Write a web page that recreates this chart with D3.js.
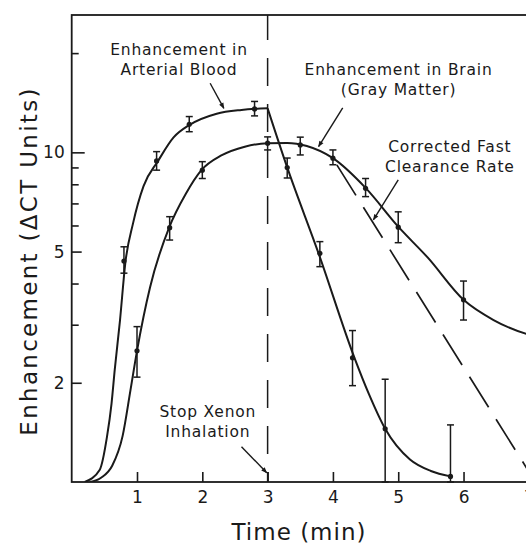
<!DOCTYPE html>
<html>
<head>
<meta charset="utf-8">
<script src="https://cdn.jsdelivr.net/npm/d3@7"></script>
<style>
  body { margin: 0; background: #fff; }
  svg { display: block; font-family: "DejaVu Sans", sans-serif; }
</style>
</head>
<body>
<script>
const arterialTimes = [0.8, 1.3, 1.8, 2.8, 3.3, 3.8, 4.3, 4.8, 5.8];
const arterialValues = [4.68, 9.42, 12.17, 13.54, 8.99, 4.94, 2.38, 1.45, 1.04];
const arterialLow = [4.30, 8.83, 11.55, 12.9, 8.36, 4.50, 1.96, 1.0, 1.0];
const arterialHigh = [5.17, 10.05, 12.84, 14.27, 9.61, 5.36, 2.88, 2.05, 1.49];

const brainTimes = [1, 1.5, 2, 3, 3.5, 4, 4.5, 5, 6];
const brainValues = [2.50, 5.91, 8.83, 10.66, 10.53, 9.60, 7.78, 5.93, 3.57];
const brainLow = [2.08, 5.42, 8.33, 10.17, 9.82, 9.17, 7.34, 5.32, 3.10];
const brainHigh = [2.96, 6.38, 9.37, 11.14, 11.12, 10.17, 8.33, 6.60, 4.07];

// the hand drawn curves through the points
const arterialRise = [[0.2, 1.0], [0.43, 1.09], [0.54, 1.37], [0.61, 1.73], [0.66, 2.2], [0.74, 3.1],
  [0.82, 4.6], [0.94, 6.1], [1.1, 7.9], [1.32, 9.4], [1.56, 11.1], [1.8, 12.1], [2.22, 13.1],
  [2.6, 13.45], [3.0, 13.6]];
const arterialFall = [[3.0, 13.6], [3.3, 9.0], [3.78, 4.94], [4.33, 2.38], [4.55, 1.85], [4.8, 1.45],
  [5.18, 1.17], [5.5, 1.08], [5.8, 1.04]];
const brainCurve = [[0.28, 1.0], [0.45, 1.03], [0.62, 1.12], [0.78, 1.38], [0.9, 1.9], [1.0, 2.5],
  [1.2, 3.9], [1.49, 5.9], [1.75, 7.5], [1.98, 8.8], [2.3, 9.8], [2.65, 10.4], [3.0, 10.66],
  [3.3, 10.68], [3.6, 10.45], [4.0, 9.6], [4.5, 7.8], [5.0, 5.95], [5.45, 4.8], [6.0, 3.57],
  [6.46, 3.1], [7.0, 2.8], [7.2, 2.74]];
const clearanceLine = [[4.06, 9.16], [7.1, 1.0]];
const stopTime = 3;

// axes
const xTicks = [1, 2, 3, 4, 5, 6, 7];
const yTicks = [2, 3, 4, 5, 6, 7, 8, 9, 10, 20];
const yLabels = [2, 5, 10];

// annotations: text lines, text anchor and arrow ends in data units
const notes = [
  {lines: ["Enhancement in", "Arterial Blood"], at: [1.643, 19.75], from: [2.12, 16.2], to: [2.33, 13.6]},
  {lines: ["Enhancement in Brain", "(Gray Matter)"], at: [5.005, 17.17], from: [4.15, 13.64], to: [3.78, 10.41]},
  {lines: ["Corrected Fast", "Clearance Rate"], at: [5.79, 10.05], from: [5.0, 8.25], to: [4.62, 6.24]},
  {lines: ["Stop Xenon", "Inhalation"], at: [2.084, 1.578], from: [2.6, 1.28], to: [2.986, 1.067]}
];

const ink = "#1a1a1a";
const width = 526, height = 546;

const x = d3.scaleLinear().domain([0, 7.2]).range([71.7, 541.9]);
const y = d3.scaleLog().domain([1, 26.1]).range([482, 15]);

const svg = d3.select("body").append("svg")
  .attr("width", width)
  .attr("height", height);

svg.append("defs").append("clipPath").attr("id", "plot")
  .append("rect")
  .attr("x", x(0)).attr("y", y(26.1))
  .attr("width", x(7.2) - x(0)).attr("height", y(1) - y(26.1));

svg.select("defs").append("marker")
  .attr("id", "head")
  .attr("viewBox", "0 0 10 10")
  .attr("refX", 9).attr("refY", 5)
  .attr("markerUnits", "userSpaceOnUse")
  .attr("markerWidth", 8).attr("markerHeight", 6)
  .attr("orient", "auto")
  .append("path")
  .attr("d", "M0,1 L10,5 L0,9 Z")
  .attr("fill", ink);

// frame round the plot
svg.append("rect")
  .attr("x", x(0)).attr("y", y(26.1))
  .attr("width", x(7.2) - x(0)).attr("height", y(1) - y(26.1))
  .attr("fill", "none")
  .attr("stroke", ink)
  .attr("stroke-width", 1.8);

// x axis, ticks point inward
const gx = svg.append("g")
  .attr("transform", `translate(0,${y(1)})`)
  .call(d3.axisBottom(x).tickValues(xTicks).tickFormat(d3.format("d"))
    .tickSizeInner(-10).tickSizeOuter(0).tickPadding(9));
gx.select(".domain").remove();
gx.attr("font-family", null).attr("font-size", 17);
gx.selectAll(".tick line").attr("stroke", ink).attr("stroke-width", 1.6);
gx.selectAll(".tick text").attr("fill", ink);

// y axis, log scale, longer ticks on the labelled values
const gy = svg.append("g")
  .attr("transform", `translate(${x(0)},0)`)
  .call(d3.axisLeft(y).tickValues(yTicks).tickFormat(d => yLabels.includes(d) ? d : "")
    .tickSizeInner(-7).tickSizeOuter(0).tickPadding(7));
gy.select(".domain").remove();
gy.attr("font-family", null).attr("font-size", 17);
gy.selectAll(".tick line")
  .attr("x2", d => d === 10 ? 13 : yLabels.includes(d) ? 10 : 7)
  .attr("stroke", ink).attr("stroke-width", 1.6);
gy.selectAll(".tick text").attr("fill", ink);

// axis titles
svg.append("text")
  .attr("x", 299).attr("y", 540)
  .attr("text-anchor", "middle")
  .attr("font-size", 23)
  .attr("letter-spacing", 1)
  .attr("fill", ink)
  .text("Time (min)");

svg.append("text")
  .attr("transform", "translate(36.5,261) rotate(-90)")
  .attr("text-anchor", "middle")
  .attr("font-size", 23)
  .attr("letter-spacing", 2.3)
  .attr("fill", ink)
  .text("Enhancement (\u0394CT Units)");

const plot = svg.append("g").attr("clip-path", "url(#plot)");

// stop of inhalation, dashed vertical
plot.append("line")
  .attr("x1", x(stopTime)).attr("x2", x(stopTime))
  .attr("y1", y(26.1)).attr("y2", y(1))
  .attr("stroke", ink)
  .attr("stroke-width", 1.5)
  .attr("stroke-dasharray", "28,18")
  .attr("stroke-dashoffset", 3);

const line = d3.line()
  .x(d => x(d[0]))
  .y(d => y(d[1]))
  .curve(d3.curveMonotoneX);

plot.selectAll(".fit")
  .data([arterialRise, arterialFall, brainCurve])
  .join("path")
  .attr("class", "fit")
  .attr("d", line)
  .attr("fill", "none")
  .attr("stroke", ink)
  .attr("stroke-width", 2);

plot.append("path")
  .attr("d", d3.line().x(d => x(d[0])).y(d => y(d[1]))(clearanceLine))
  .attr("fill", "none")
  .attr("stroke", ink)
  .attr("stroke-width", 1.7)
  .attr("stroke-dasharray", "36,14");

// points with error bars
const points = arterialTimes.map((t, i) => ({t: t, v: arterialValues[i], lo: arterialLow[i], hi: arterialHigh[i]}))
  .concat(brainTimes.map((t, i) => ({t: t, v: brainValues[i], lo: brainLow[i], hi: brainHigh[i]})));

const bars = svg.append("g")
  .attr("stroke", ink)
  .attr("stroke-width", 1.5)
  .selectAll("g")
  .data(points)
  .join("g");

bars.append("line")
  .attr("x1", d => x(d.t)).attr("x2", d => x(d.t))
  .attr("y1", d => y(d.lo)).attr("y2", d => y(d.hi));

bars.selectAll(".cap")
  .data(d => [[d.t, d.lo], [d.t, d.hi]])
  .join("line")
  .attr("class", "cap")
  .attr("x1", d => x(d[0]) - 3.5).attr("x2", d => x(d[0]) + 3.5)
  .attr("y1", d => y(d[1])).attr("y2", d => y(d[1]));

bars.append("circle")
  .attr("cx", d => x(d.t)).attr("cy", d => y(d.v))
  .attr("r", 2.6)
  .attr("fill", ink)
  .attr("stroke", "none");

// labels with their arrows
const note = svg.selectAll(".note")
  .data(notes)
  .join("g")
  .attr("class", "note");

note.append("text")
  .attr("x", d => x(d.at[0]))
  .attr("y", d => y(d.at[1]))
  .attr("text-anchor", "middle")
  .attr("font-size", 15.5)
  .attr("letter-spacing", 0.8)
  .attr("fill", ink)
  .selectAll("tspan")
  .data(d => d.lines.map(l => ({l: l, x: x(d.at[0])})))
  .join("tspan")
  .attr("x", d => d.x)
  .attr("dy", (d, i) => i ? 20 : 0)
  .text(d => d.l);

note.append("line")
  .attr("x1", d => x(d.from[0])).attr("y1", d => y(d.from[1]))
  .attr("x2", d => x(d.to[0])).attr("y2", d => y(d.to[1]))
  .attr("stroke", ink)
  .attr("stroke-width", 1.4)
  .attr("marker-end", "url(#head)");
</script>
</body>
</html>
